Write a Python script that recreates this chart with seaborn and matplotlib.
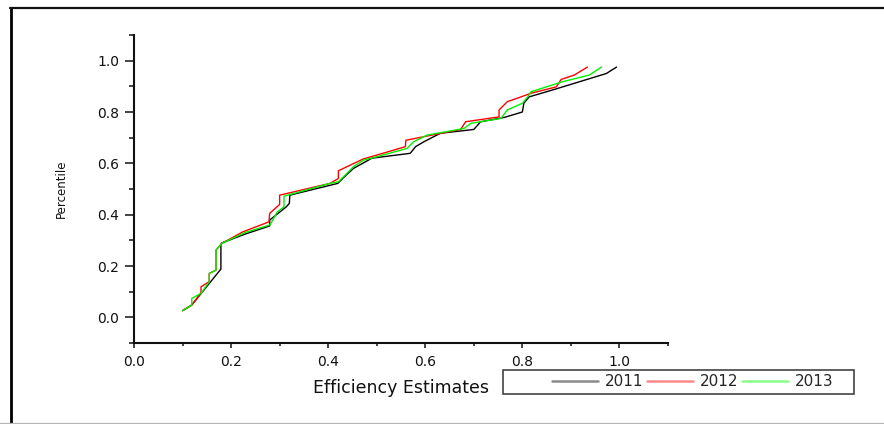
import pandas as pd
import seaborn as sns
import matplotlib.pyplot as plt
from matplotlib.lines import Line2D
from matplotlib.patches import Rectangle

# values (efficiency estimate, percentile)
years = ["2011", "2012", "2013"]

eff_2011 = [0.100, 0.119, 0.179, 0.179, 0.181, 0.230, 0.2795, 0.2795, 0.314, 0.320, 0.321,
            0.420, 0.432, 0.452, 0.490, 0.569, 0.580, 0.597, 0.631, 0.700, 0.714, 0.763,
            0.800, 0.803, 0.814, 0.866, 0.973, 0.994]
pct_2011 = [0.026, 0.048, 0.188, 0.285, 0.290, 0.325, 0.356, 0.379, 0.431, 0.444, 0.476,
            0.522, 0.545, 0.580, 0.620, 0.639, 0.665, 0.684, 0.717, 0.732, 0.762, 0.779,
            0.800, 0.834, 0.859, 0.888, 0.950, 0.975]

eff_2012 = [0.100, 0.119, 0.138, 0.138, 0.155, 0.155, 0.169, 0.169, 0.181, 0.224, 0.278,
            0.2795, 0.300, 0.300, 0.404, 0.421, 0.421, 0.472, 0.500, 0.559, 0.560, 0.673,
            0.683, 0.752, 0.752, 0.769, 0.818, 0.870, 0.880, 0.907, 0.934]
pct_2012 = [0.026, 0.048, 0.096, 0.119, 0.139, 0.171, 0.184, 0.262, 0.288, 0.333, 0.372,
            0.405, 0.440, 0.476, 0.522, 0.541, 0.571, 0.617, 0.632, 0.665, 0.690, 0.732,
            0.762, 0.781, 0.808, 0.840, 0.873, 0.898, 0.927, 0.944, 0.975]

eff_2013 = [0.100, 0.119, 0.119, 0.138, 0.155, 0.155, 0.169, 0.169, 0.181, 0.228, 0.280,
            0.295, 0.309, 0.309, 0.404, 0.421, 0.435, 0.452, 0.473, 0.487, 0.5625, 0.576,
            0.604, 0.680, 0.694, 0.756, 0.769, 0.800, 0.811, 0.818, 0.883, 0.938, 0.963]
pct_2013 = [0.026, 0.048, 0.074, 0.093, 0.139, 0.171, 0.184, 0.262, 0.288, 0.330, 0.360,
            0.410, 0.431, 0.472, 0.522, 0.528, 0.554, 0.587, 0.613, 0.619, 0.658, 0.684,
            0.710, 0.736, 0.756, 0.775, 0.808, 0.834, 0.859, 0.879, 0.918, 0.944, 0.975]

x_ticks = [0.0, 0.2, 0.4, 0.6, 0.8, 1.0]
x_labels = ["0.0", "0.2", "0.4", "0.6", "0.8", "1.0"]
y_ticks = [0.0, 0.2, 0.4, 0.6, 0.8, 1.0]
y_labels = ["0.0", "0.2", "0.4", "0.6", "0.8", "1.0"]

colors = {"2011": "#000000", "2012": "#ff0000", "2013": "#00f000"}
legend_colors = ["#8a8a8a", "#ff8a8a", "#8aff8a"]

frames = []
for yr, ex, pc in zip(years, [eff_2011, eff_2012, eff_2013], [pct_2011, pct_2012, pct_2013]):
    frames.append(pd.DataFrame({"eff": ex, "pct": pc, "year": yr}))
df = pd.concat(frames, ignore_index=True)

sns.set_style("ticks")
plt.rcParams["font.family"] = ["DejaVu Sans"]

fig = plt.figure(figsize=(8.84, 4.24), dpi=100)
ax = fig.add_axes([134 / 884, 1 - 343 / 424, 534 / 884, 308 / 424])

sns.lineplot(data=df, x="eff", y="pct", hue="year", palette=colors, sort=False,
             estimator=None, linewidth=1.0, legend=False, ax=ax)

ax.set_xlim(0, 1.1)
ax.set_ylim(-0.1, 1.1)
ax.set_xticks(x_ticks)
ax.set_xticklabels(x_labels)
ax.set_xticks([0.1, 0.3, 0.5, 0.7, 0.9, 1.1], minor=True)
ax.set_yticks(y_ticks)
ax.set_yticklabels(y_labels)
ax.set_yticks([-0.1, 0.1, 0.3, 0.5, 0.7, 0.9, 1.1], minor=True)
sns.despine(ax=ax)
for sp in ["left", "bottom"]:
    ax.spines[sp].set_linewidth(1.5)
    ax.spines[sp].set_color("#111111")

ax.tick_params(axis="x", which="major", length=3.6, width=1.1, pad=5, labelsize=10, colors="#111111")
ax.tick_params(axis="x", which="minor", length=2.2, width=1.1, colors="#111111")
ax.tick_params(axis="y", which="major", length=6.5, width=1.1, pad=4, labelsize=10, colors="#111111")
ax.tick_params(axis="y", which="minor", length=3.6, width=1.1, colors="#111111")

ax.set_xlabel("Efficiency Estimates", fontsize=12.5, labelpad=7, color="#111111")
ax.set_ylabel("Percentile", fontsize=8.5, color="#111111")
ax.yaxis.set_label_coords(-0.124, 0.5)

# legend box below the axes
handles = [Line2D([], [], color=c, lw=1.8) for c in legend_colors]
fig.legend(handles, years, loc="center left", bbox_to_anchor=(552 / 884, 1 - 382 / 424),
           ncol=3, frameon=False, fontsize=11, handlelength=3.0, handletextpad=0.45,
           columnspacing=0.25, borderpad=0, borderaxespad=0)
fig.add_artist(Rectangle((503 / 884, 1 - 394 / 424), 351 / 884, 24 / 424,
                         transform=fig.transFigure, fill=False, edgecolor="#333333", lw=1.1))

# page frame
fig.add_artist(Line2D([10.5 / 884, 10.5 / 884], [0, 1 - 7.5 / 424], transform=fig.transFigure,
                      color="black", lw=2.0))
fig.add_artist(Line2D([9.5 / 884, 1], [1 - 7.5 / 424, 1 - 7.5 / 424], transform=fig.transFigure,
                      color="#111111", lw=1.6))
fig.add_artist(Line2D([0, 1], [0.6 / 424, 0.6 / 424], transform=fig.transFigure,
                      color="#b4b4b4", lw=0.9))

fig.savefig("out.png", dpi=100)
